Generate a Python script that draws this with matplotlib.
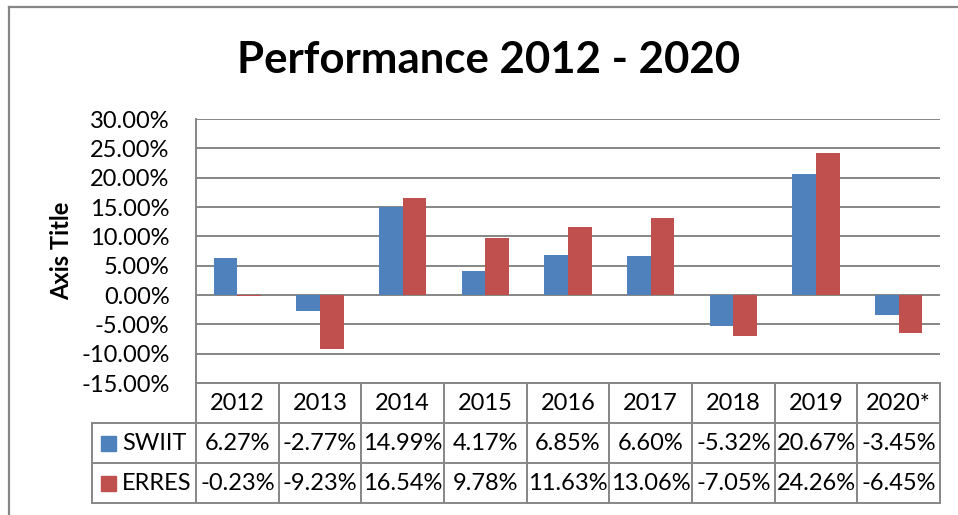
import matplotlib
matplotlib.use("Agg")
import matplotlib.pyplot as plt
from matplotlib.lines import Line2D
from matplotlib.patches import Rectangle
import numpy as np

years = ["2012", "2013", "2014", "2015", "2016", "2017", "2018", "2019", "2020*"]
swiit = [6.27, -2.77, 14.99, 4.17, 6.85, 6.60, -5.32, 20.67, -3.45]
erres = [-0.23, -9.23, 16.54, 9.78, 11.63, 13.06, -7.05, 24.26, -6.45]
series_names = ["SWIIT", "ERRES"]
colors = ["#4F81BD", "#C0504D"]

W, H = 958, 515
FONT = "Lato"
GRID = "#868686"
FS = 17

fig = plt.figure(figsize=(W / 100, H / 100), dpi=100)


def fx(x):
    return x / W


def fy(y):
    return 1 - y / H


def hline(x0, x1, y, color=GRID, lw=1.4):
    fig.add_artist(Line2D([fx(x0), fx(x1)], [fy(y), fy(y)], color=color, lw=lw))


def vline(x, y0, y1, color=GRID, lw=1.4):
    fig.add_artist(Line2D([fx(x), fx(x)], [fy(y0), fy(y1)], color=color, lw=lw))


# outer chart frame (runs past the crop at right/bottom)
hline(9, 980, 7, lw=1.6)
vline(9, 7, 540, lw=1.6)

# plot area
left, right, top, bottom = 196, 940, 119, 383
ax = fig.add_axes([fx(left), fy(bottom), fx(right - left), (bottom - top) / H])
n = len(years)
x = np.arange(n)
bw = 0.2857
ax.bar(x - bw / 2, swiit, bw, color=colors[0], zorder=3)
ax.bar(x + bw / 2, erres, bw, color=colors[1], zorder=3)
ax.set_xlim(-0.5, n - 0.5)
ax.set_ylim(-15, 30)
yt = np.arange(-15, 31, 5)
ax.set_yticks(yt)
ax.set_yticklabels([f"{v:.2f}%" for v in yt], fontsize=FS, family=FONT)
ax.set_xticks([])
ax.tick_params(axis="y", length=0, pad=19)
ax.grid(axis="y", color=GRID, lw=1.4, zorder=0)
for s in ["top", "right", "bottom"]:
    ax.spines[s].set_visible(False)
ax.spines["left"].set_color(GRID)
ax.spines["left"].set_linewidth(1.4)

fig.text(fx(62), fy(251), "Axis Title", fontsize=FS, fontweight="bold", family=FONT,
         rotation=90, ha="center", va="center")
fig.text(fx(489), fy(60), "Performance 2012 - 2020", fontsize=31.5, fontweight="bold",
         family=FONT, ha="center", va="center")

# data table
colw = (right - left) / n
leg_left = 92
rows_y = [383, 423, 463, 503]
hline(left, right, rows_y[0])
for yy in rows_y[1:]:
    hline(leg_left, right, yy)
vline(leg_left, rows_y[1], rows_y[3])
for k in range(n + 1):
    vline(left + k * colw, rows_y[0], rows_y[3])

for k, yr in enumerate(years):
    cx = left + (k + 0.5) * colw
    fig.text(fx(cx), fy((rows_y[0] + rows_y[1]) / 2), yr, fontsize=FS, family=FONT,
             ha="center", va="center")
    for r, vals in enumerate([swiit, erres]):
        cy = (rows_y[r + 1] + rows_y[r + 2]) / 2
        fig.text(fx(cx), fy(cy), f"{vals[k]:.2f}%", fontsize=FS, family=FONT,
                 ha="center", va="center")

for r, name in enumerate(series_names):
    cy = (rows_y[r + 1] + rows_y[r + 2]) / 2
    fig.add_artist(Rectangle((fx(101), fy(cy + 7.5)), fx(15), 15 / H,
                             color=colors[r]))
    fig.text(fx(122), fy(cy), name, fontsize=FS, family=FONT, ha="left", va="center")

fig.savefig("out.png", dpi=100)
